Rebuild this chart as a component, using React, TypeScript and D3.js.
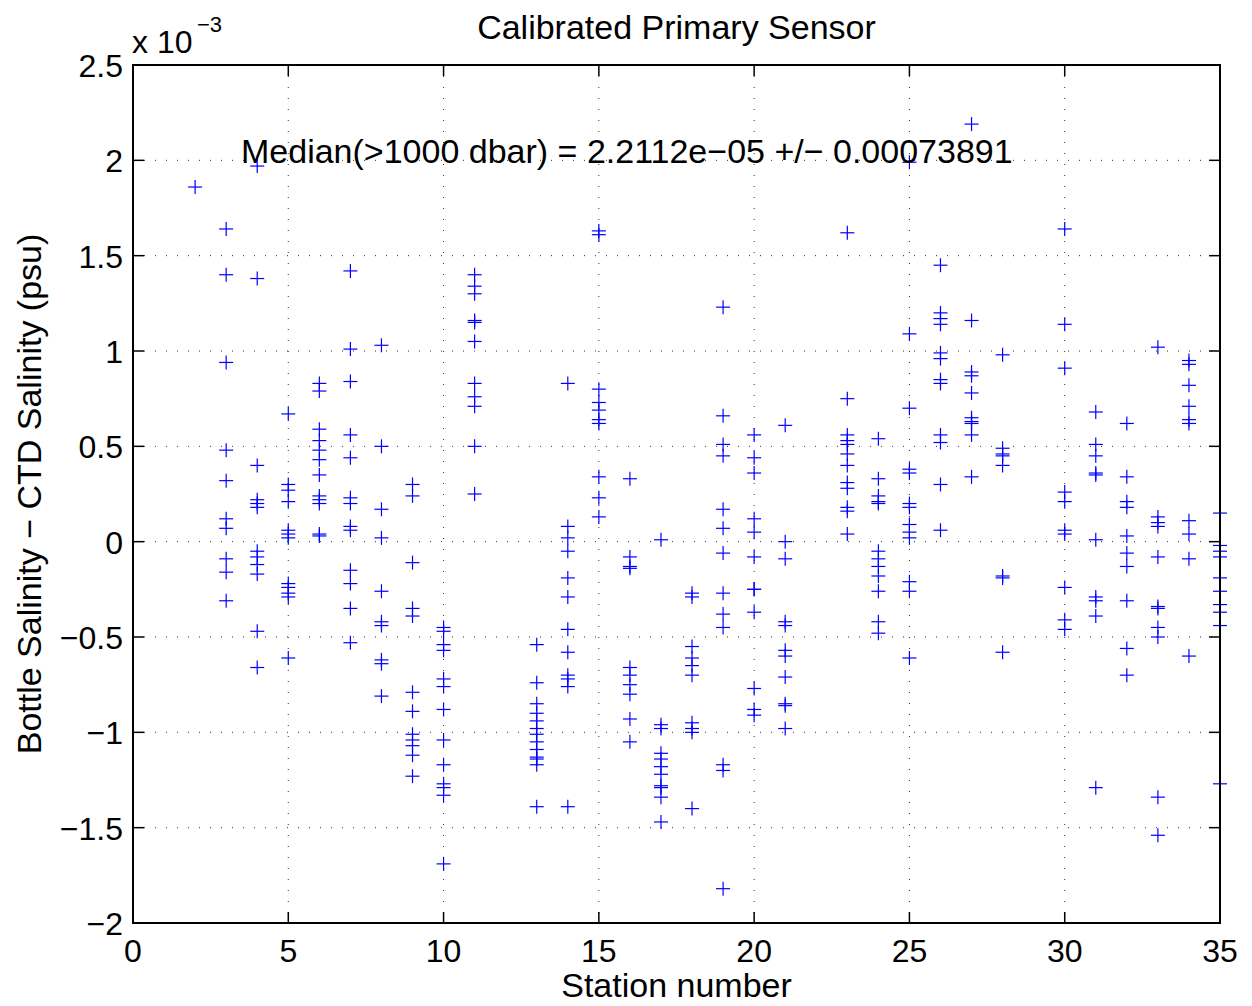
import React from "react";
import * as d3 from "d3";

// Station numbers and salinity differences (units of 1e-3 psu)
const stations = [2, 3, 4, 5, 6, 7, 8, 9, 10, 11, 13, 14, 15, 16, 17, 18, 19, 20, 21, 23, 24, 25, 26, 27, 28, 30, 31, 32, 33, 34, 35];
const diffs: number[][] = [
  [1.86],
  [1.64, 1.40, 0.94, 0.48, 0.32, 0.12, 0.07, -0.09, -0.16, -0.31],
  [1.97, 1.38, 0.40, 0.22, 0.20, 0.18, -0.05, -0.08, -0.12, -0.17, -0.47, -0.66],
  [0.67, 0.30, 0.27, 0.21, 0.06, 0.04, 0.02, -0.22, -0.24, -0.27, -0.29, -0.61],
  [0.83, 0.79, 0.59, 0.53, 0.48, 0.43, 0.35, 0.24, 0.22, 0.20, 0.04, 0.03],
  [1.42, 1.01, 0.84, 0.56, 0.44, 0.23, 0.20, 0.08, 0.06, -0.15, -0.22, -0.35, -0.53],
  [1.03, 0.50, 0.17, 0.02, -0.26, -0.42, -0.44, -0.62, -0.64, -0.81],
  [0.30, 0.24, -0.11, -0.35, -0.39, -0.79, -0.89, -1.01, -1.04, -1.07, -1.12, -1.23],
  [-0.45, -0.47, -0.54, -0.57, -0.72, -0.76, -0.88, -1.04, -1.17, -1.27, -1.29, -1.33, -1.69],
  [1.40, 1.34, 1.30, 1.16, 1.15, 1.05, 0.83, 0.76, 0.71, 0.50, 0.25],
  [-0.54, -0.74, -0.85, -0.90, -0.94, -0.98, -1.01, -1.05, -1.09, -1.13, -1.14, -1.17, -1.39],
  [0.83, 0.08, 0.02, -0.05, -0.19, -0.29, -0.46, -0.58, -0.70, -0.72, -0.76, -1.39],
  [1.63, 1.61, 0.80, 0.73, 0.69, 0.64, 0.62, 0.34, 0.23, 0.13],
  [0.33, -0.08, -0.13, -0.14, -0.66, -0.70, -0.75, -0.80, -0.93, -1.05],
  [0.01, -0.96, -0.98, -1.11, -1.14, -1.18, -1.22, -1.28, -1.29, -1.34, -1.47],
  [-0.27, -0.29, -0.55, -0.61, -0.65, -0.70, -0.95, -0.98, -1.00, -1.40],
  [1.23, 0.66, 0.51, 0.45, 0.17, 0.07, -0.06, -0.27, -0.38, -0.45, -1.17, -1.20, -1.82],
  [0.56, 0.44, 0.36, 0.12, 0.05, -0.08, -0.25, -0.25, -0.37, -0.77, -0.88, -0.91],
  [0.61, 0.00, -0.09, -0.42, -0.44, -0.57, -0.60, -0.71, -0.85, -0.86, -0.98],
  [1.62, 0.75, 0.56, 0.53, 0.51, 0.46, 0.40, 0.31, 0.28, 0.18, 0.16, 0.04],
  [0.54, 0.33, 0.24, 0.21, 0.20, -0.05, -0.09, -0.13, -0.18, -0.26, -0.42, -0.48],
  [1.99, 1.09, 0.70, 0.38, 0.36, 0.20, 0.18, 0.09, 0.05, 0.02, -0.21, -0.26, -0.61],
  [1.45, 1.20, 1.17, 1.14, 0.99, 0.96, 0.85, 0.83, 0.56, 0.52, 0.30, 0.06],
  [2.19, 1.16, 0.89, 0.87, 0.78, 0.65, 0.63, 0.62, 0.56, 0.34],
  [0.98, 0.49, 0.46, 0.45, 0.40, -0.18, -0.19, -0.58],
  [1.64, 1.14, 0.91, 0.26, 0.21, 0.06, 0.04, -0.24, -0.41, -0.46],
  [0.68, 0.51, 0.45, 0.36, 0.35, 0.01, -0.29, -0.31, -0.39, -1.29],
  [0.62, 0.34, 0.21, 0.18, 0.03, -0.06, -0.13, -0.31, -0.56, -0.70],
  [1.02, 0.13, 0.10, 0.08, -0.08, -0.34, -0.35, -0.45, -0.50, -1.34, -1.54],
  [0.95, 0.93, 0.82, 0.71, 0.64, 0.62, 0.11, 0.04, -0.09, -0.60],
  [0.15, -0.02, -0.05, -0.08, -0.19, -0.26, -0.33, -0.37, -0.44, -1.27],
];

const xTicks = [0, 5, 10, 15, 20, 25, 30, 35];
const yTicks = [-2, -1.5, -1, -0.5, 0, 0.5, 1, 1.5, 2, 2.5];
const yTickLabels = ["\u22122", "\u22121.5", "\u22121", "\u22120.5", "0", "0.5", "1", "1.5", "2", "2.5"];

const titleText = "Calibrated Primary Sensor";
const xLabelText = "Station number";
const yLabelText = "Bottle Salinity \u2212 CTD Salinity (psu)";
const annotationText = "Median(>1000 dbar) = 2.2112e\u221205 +/\u2212 0.00073891";

const W = 1252;
const H = 1006;
const M = { left: 133, right: 1220, top: 65, bottom: 923 };
const FONT = "'Liberation Sans', Arial, Helvetica, sans-serif";

export default function App() {
  const x = d3.scaleLinear().domain([0, 35]).range([M.left, M.right]);
  const y = d3.scaleLinear().domain([-2, 2.5]).range([M.bottom, M.top]);
  const tick = 11;
  const ms = 7;

  const points: { s: number; v: number }[] = [];
  stations.forEach((s, i) => diffs[i].forEach((v) => points.push({ s, v })));

  return (
    <svg
      width={W}
      height={H}
      style={{ position: "absolute", left: 0, top: 0, background: "#fff" }}
      fontFamily={FONT}
    >
      <rect x={0} y={0} width={W} height={H} fill="#fff" />
      {/* grid */}
      <g stroke="#000" strokeWidth={1} strokeDasharray="1,10" opacity={0.8}>
        {xTicks.slice(1, -1).map((t) => (
          <line key={"gx" + t} x1={x(t)} x2={x(t)} y1={M.top} y2={M.bottom} />
        ))}
        {yTicks.slice(1, -1).map((t) => (
          <line key={"gy" + t} x1={M.left} x2={M.right} y1={y(t)} y2={y(t)} />
        ))}
      </g>
      {/* markers */}
      <g stroke="#0000ff" strokeWidth={1.2}>
        {points.map((p, i) => (
          <g key={i}>
            <line x1={x(p.s) - ms} x2={x(p.s) + ms} y1={y(p.v)} y2={y(p.v)} />
            <line x1={x(p.s)} x2={x(p.s)} y1={y(p.v) - ms} y2={y(p.v) + ms} />
          </g>
        ))}
      </g>
      {/* ticks */}
      <g stroke="#000" strokeWidth={1.5}>
        {xTicks.map((t) => (
          <g key={"tx" + t}>
            <line x1={x(t)} x2={x(t)} y1={M.bottom} y2={M.bottom - tick} />
            <line x1={x(t)} x2={x(t)} y1={M.top} y2={M.top + tick} />
          </g>
        ))}
        {yTicks.map((t) => (
          <g key={"ty" + t}>
            <line x1={M.left} x2={M.left + tick} y1={y(t)} y2={y(t)} />
            <line x1={M.right} x2={M.right - tick} y1={y(t)} y2={y(t)} />
          </g>
        ))}
      </g>
      <rect
        x={M.left}
        y={M.top}
        width={M.right - M.left}
        height={M.bottom - M.top}
        fill="none"
        stroke="#000"
        strokeWidth={2}
      />
      {/* tick labels */}
      <g fontSize={32} fill="#000">
        {xTicks.map((t) => (
          <text key={"lx" + t} x={x(t)} y={962} textAnchor="middle">
            {String(t)}
          </text>
        ))}
        {yTicks.map((t, i) => (
          <text key={"ly" + t} x={M.left - 10} y={y(t) + 12} textAnchor="end">
            {yTickLabels[i]}
          </text>
        ))}
      </g>
      {/* exponent */}
      <text x={132} y={53} fontSize={32} fill="#000">x 10</text>
      <text x={197} y={32} fontSize={22} fill="#000">{"\u22123"}</text>
      {/* title */}
      <text x={(M.left + M.right) / 2} y={39} fontSize={34} textAnchor="middle" fill="#000">
        {titleText}
      </text>
      {/* annotation */}
      <text x={241} y={163} fontSize={34} fill="#000">
        {annotationText}
      </text>
      {/* axis labels */}
      <text x={(M.left + M.right) / 2} y={997} fontSize={34} textAnchor="middle" fill="#000">
        {xLabelText}
      </text>
      <text
        transform={`translate(41, ${(M.top + M.bottom) / 2}) rotate(-90)`}
        fontSize={34}
        textAnchor="middle"
        fill="#000"
      >
        {yLabelText}
      </text>
    </svg>
  );
}
